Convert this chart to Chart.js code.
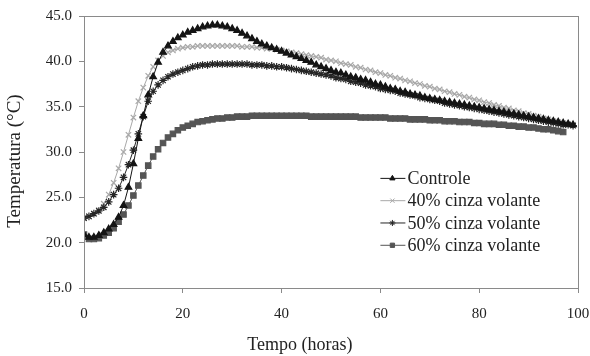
<!DOCTYPE html>
<html>
<head>
<meta charset="utf-8">
<script src="https://cdn.jsdelivr.net/npm/chart.js@4"></script>
<style>
  body { margin: 0; background: #fff; }
  #wrap { width: 590px; height: 356px; }
</style>
</head>
<body>
<div id="wrap"><canvas id="myChart" width="590" height="356"></canvas></div>
<script>
// hours since casting (hourly readings)
const hours = [];
for (let h = 0; h <= 99; h++) hours.push(h);

const seriesNames = ['Controle', '40% cinza volante', '50% cinza volante', '60% cinza volante'];

const controle = [20.9, 20.6, 20.6, 20.8, 21.1, 21.5, 22.0, 22.8, 24.1, 26.1,
  28.7, 31.5, 34.0, 36.3, 38.3, 39.9, 41.0, 41.7, 42.2, 42.6,
  42.9, 43.2, 43.4, 43.6, 43.8, 43.9, 44.0, 44.0, 43.9, 43.8,
  43.6, 43.4, 43.1, 42.8, 42.5, 42.2, 41.9, 41.7, 41.5, 41.3,
  41.1, 40.9, 40.7, 40.5, 40.3, 40.1, 39.9, 39.6, 39.4, 39.2,
  39.0, 38.8, 38.7, 38.5, 38.3, 38.2, 38.0, 37.9, 37.7, 37.5,
  37.4, 37.2, 37.0, 36.9, 36.7, 36.6, 36.4, 36.3, 36.2, 36.0,
  35.9, 35.8, 35.7, 35.6, 35.5, 35.4, 35.3, 35.2, 35.1, 35.0,
  34.9, 34.8, 34.7, 34.6, 34.5, 34.4, 34.3, 34.2, 34.1, 34.0,
  33.9, 33.8, 33.7, 33.6, 33.5, 33.4, 33.3, 33.2, 33.1, 33.0];

const cinza40 = [22.7, 22.9, 23.2, 23.6, 24.3, 25.3, 26.6, 28.2, 30.0, 31.9,
  33.8, 35.6, 37.1, 38.4, 39.4, 40.1, 40.6, 41.0, 41.2, 41.4,
  41.5, 41.6, 41.6, 41.7, 41.7, 41.7, 41.7, 41.7, 41.7, 41.7,
  41.7, 41.7, 41.6, 41.6, 41.6, 41.5, 41.5, 41.4, 41.4, 41.3,
  41.2, 41.1, 41.0, 40.9, 40.8, 40.7, 40.6, 40.5, 40.4, 40.2,
  40.1, 40.0, 39.8, 39.7, 39.6, 39.4, 39.3, 39.1, 39.0, 38.8,
  38.7, 38.5, 38.4, 38.2, 38.1, 37.9, 37.8, 37.6, 37.5, 37.3,
  37.2, 37.0, 36.9, 36.7, 36.6, 36.4, 36.3, 36.1, 36.0, 35.8,
  35.7, 35.5, 35.4, 35.2, 35.1, 34.9, 34.8, 34.6, 34.5, 34.3,
  34.2, 34.0, 33.9, 33.7, 33.6, 33.4, 33.3, 33.2, 33.1, 33.0];

const cinza50 = [22.7, 22.9, 23.2, 23.5, 23.9, 24.5, 25.3, 26.0, 27.2, 28.6,
  30.2, 32.0, 33.9, 35.6, 36.7, 37.4, 37.9, 38.3, 38.6, 38.8,
  39.0, 39.2, 39.4, 39.5, 39.6, 39.6, 39.7, 39.7, 39.7, 39.7,
  39.7, 39.7, 39.7, 39.7, 39.6, 39.6, 39.6, 39.5, 39.5, 39.4,
  39.4, 39.3, 39.2, 39.1, 39.0, 38.9, 38.8, 38.7, 38.6, 38.5,
  38.4, 38.2, 38.1, 38.0, 37.8, 37.7, 37.6, 37.4, 37.3, 37.2,
  37.0, 36.9, 36.8, 36.7, 36.5, 36.4, 36.3, 36.2, 36.0, 35.9,
  35.8, 35.7, 35.6, 35.4, 35.3, 35.2, 35.1, 35.0, 34.9, 34.8,
  34.7, 34.6, 34.5, 34.4, 34.3, 34.2, 34.1, 34.0, 33.9, 33.8,
  33.7, 33.6, 33.5, 33.4, 33.3, 33.2, 33.1, 33.0, 33.0, 32.9];

const cinza60 = [20.9, 20.4, 20.4, 20.5, 20.8, 21.1, 21.6, 22.3, 23.1, 24.1,
  25.2, 26.3, 27.4, 28.5, 29.5, 30.3, 31.0, 31.6, 32.0, 32.4,
  32.7, 32.9, 33.1, 33.3, 33.4, 33.5, 33.6, 33.7, 33.7, 33.8,
  33.8, 33.9, 33.9, 33.9, 34.0, 34.0, 34.0, 34.0, 34.0, 34.0,
  34.0, 34.0, 34.0, 34.0, 34.0, 34.0, 33.9, 33.9, 33.9, 33.9,
  33.9, 33.9, 33.9, 33.9, 33.9, 33.9, 33.8, 33.8, 33.8, 33.8,
  33.8, 33.8, 33.7, 33.7, 33.7, 33.7, 33.6, 33.6, 33.6, 33.6,
  33.5, 33.5, 33.5, 33.4, 33.4, 33.4, 33.3, 33.3, 33.3, 33.2,
  33.2, 33.1, 33.1, 33.1, 33.0, 33.0, 32.9, 32.9, 32.8, 32.8,
  32.7, 32.7, 32.6, 32.5, 32.5, 32.4, 32.3, 32.2];

const xTicks = [0, 20, 40, 60, 80, 100];
const yTicks = [15.0, 20.0, 25.0, 30.0, 35.0, 40.0, 45.0];

const serif = '"Liberation Serif", "Times New Roman", serif';
const axisGrey = '#8a8a8a';

function points(vals) {
    return vals.map((v, i) => ({ x: hours[i], y: v }));
}

function makeSet(label, vals, color, style, radius, order) {
    return {
        label: label,
        data: points(vals),
        order: order,
        borderColor: color,
        backgroundColor: color,
        borderWidth: 1,
        pointStyle: style,
        pointRadius: radius,
        pointBorderWidth: 1.2,
        pointBorderColor: color,
        pointBackgroundColor: color,
        tension: 0
    };
}

// box round the plot, axis titles and the legend drawn inside the plot
const boxAndLegend = {
    id: 'boxAndLegend',
    afterDraw(chart) {
        const ctx = chart.ctx;
        const a = chart.chartArea;
        ctx.save();
        ctx.strokeStyle = axisGrey;
        ctx.lineWidth = 1;
        ctx.strokeRect(Math.round(a.left) + 0.5, Math.round(a.top) + 0.5,
            Math.round(a.right - a.left), Math.round(a.bottom - a.top));

        ctx.fillStyle = '#222';
        ctx.textAlign = 'center';
        ctx.textBaseline = 'middle';

        // x axis title, a bit left of the plot's middle as in the original
        ctx.font = '18px ' + serif;
        ctx.fillText('Tempo (horas)', a.left + (a.right - a.left) * 0.437, chart.height - 11);

        // y axis title, sits a little below the plot's middle
        ctx.save();
        ctx.translate(15, (a.top + a.bottom) / 2 + 9);
        ctx.rotate(-Math.PI / 2);
        ctx.font = '19px ' + serif;
        ctx.fillText('Temperatura (°C)', 0, 0);
        ctx.restore();

        const lx = a.left + (a.right - a.left) * 0.6;
        let ly = a.top + (a.bottom - a.top) * 0.597;
        ctx.font = '18px ' + serif;
        ctx.textAlign = 'left';
        seriesNames.forEach(name => {
            const ds = chart.data.datasets.find(d => d.label === name);
            ctx.strokeStyle = ds.borderColor;
            ctx.fillStyle = ds.borderColor;
            ctx.lineWidth = 1;
            ctx.beginPath();
            ctx.moveTo(lx, ly);
            ctx.lineTo(lx + 25, ly);
            ctx.stroke();
            Chart.helpers.drawPoint(ctx, {
                pointStyle: ds.pointStyle, radius: ds.pointRadius * 0.8, rotation: 0, borderWidth: 1
            }, lx + 12, ly);
            ctx.fillStyle = '#222';
            ctx.fillText(ds.label, lx + 27, ly + 1);
            ly += 22.3;
        });
        ctx.restore();
    }
};

const ctx = document.getElementById('myChart').getContext('2d');
new Chart(ctx, {
    type: 'line',
    data: {
        datasets: [
            makeSet(seriesNames[3], cinza60, '#555555', 'rect', 3.8, 4),
            makeSet(seriesNames[1], cinza40, '#a8a8a8', 'crossRot', 3.8, 3),
            makeSet(seriesNames[2], cinza50, '#262626', 'star', 3.8, 2),
            makeSet(seriesNames[0], controle, '#141414', 'triangle', 3.8, 1)
        ]
    },
    options: {
        responsive: false,
        animation: false,
        layout: { padding: { left: 0, right: 12, top: 16, bottom: 0 } },
        plugins: { legend: { display: false }, tooltip: { enabled: false } },
        scales: {
            x: {
                type: 'linear',
                min: 0,
                max: 100,
                afterBuildTicks: s => { s.ticks = xTicks.map(v => ({ value: v })); },
                afterFit: s => { s.height = 68; s.paddingRight = 0; s.paddingLeft = 0; },
                grid: { drawOnChartArea: false, tickLength: 5, color: axisGrey },
                border: { color: axisGrey },
                ticks: {
                    color: '#222',
                    font: { family: serif, size: 15 },
                    padding: 12,
                    maxRotation: 0
                }
            },
            y: {
                min: 15,
                max: 45,
                afterBuildTicks: s => { s.ticks = yTicks.map(v => ({ value: v })); },
                afterFit: s => { s.width = 84; },
                grid: { drawOnChartArea: false, tickLength: 5, color: axisGrey },
                border: { color: axisGrey },
                ticks: {
                    color: '#222',
                    font: { family: serif, size: 15 },
                    padding: 7,
                    callback: v => v.toFixed(1)
                }
            }
        }
    },
    plugins: [boxAndLegend]
});
</script>
</body>
</html>
